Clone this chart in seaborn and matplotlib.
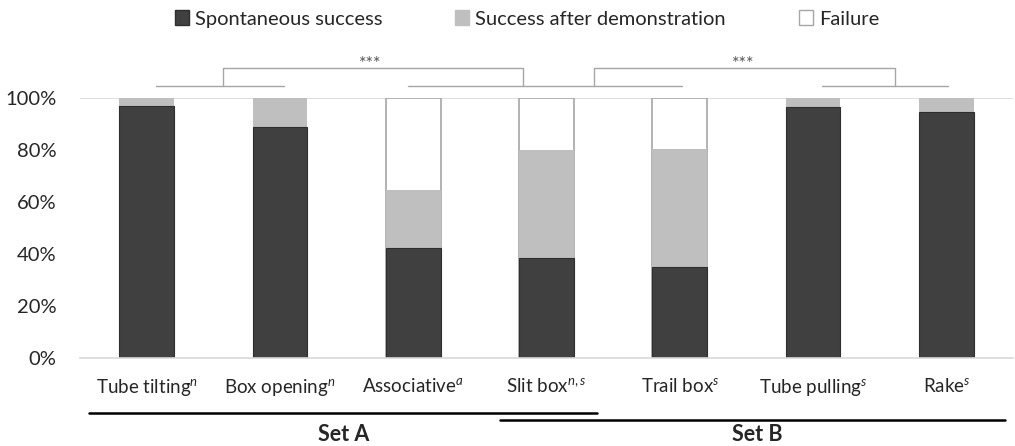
import matplotlib
matplotlib.use("Agg")
import matplotlib.pyplot as plt
import seaborn as sns
import pandas as pd
from matplotlib.patches import Patch
from matplotlib.ticker import PercentFormatter

categories = ["Tube tilting", "Box opening", "Associative", "Slit box",
              "Trail box", "Tube pulling", "Rake"]
superscripts = ["n", "n", "a", "n,s", "s", "s", "s"]
spontaneous = [97, 89, 42.5, 38.5, 35, 96.5, 94.5]
after_demo = [3, 11, 22, 41.5, 45.5, 3.5, 5.5]
failure = [0, 0, 35.5, 20, 19.5, 0, 0]

sns.set_theme(style="white")
plt.rcParams['font.family'] = ['Lato', 'DejaVu Sans']
plt.rcParams['mathtext.fontset'] = 'custom'
plt.rcParams['mathtext.it'] = 'Lato:italic'
plt.rcParams['mathtext.rm'] = 'Lato'

df = pd.DataFrame({"cat": categories, "sp": spontaneous, "de": after_demo, "fa": failure})
df["lvl2"] = df["sp"] + df["de"]
df["lvl3"] = df["lvl2"] + df["fa"]

fig = plt.figure(figsize=(10.15, 4.46), dpi=100)
ax = fig.add_axes([80/1015, 1-358/446, 933/1015, 260/446])

dark, light, fedge = "#404040", "#bfbfbf", "#a6a6a6"
sns.barplot(data=df, x="cat", y="lvl3", color="white", edgecolor=fedge, linewidth=1.2,
            width=0.41, ax=ax, saturation=1)
n = len(categories)
for p, f in zip(ax.patches[:n], failure):
    if f == 0:
        p.set_linewidth(0)
sns.barplot(data=df, x="cat", y="lvl2", color=light, linewidth=0, width=0.41, ax=ax, saturation=1)
sns.barplot(data=df, x="cat", y="sp", color=dark, edgecolor="#2e2e2e", linewidth=0.8,
            width=0.41, ax=ax, saturation=1)

ax.set_ylim(0, 100)
ax.set_xlim(-0.5, 6.5)
ax.set_yticks([0, 20, 40, 60, 80, 100])
ax.yaxis.set_major_formatter(PercentFormatter(decimals=0))
ax.set_xlabel("")
ax.set_ylabel("")
ax.set_xticks(range(n))
ax.set_xticklabels([f"{c}$^{{{s}}}$" for c, s in zip(categories, superscripts)], fontsize=13.5)
ax.tick_params(axis="x", pad=14, length=0)
ax.tick_params(axis="y", labelsize=14.5, pad=17, length=0)
for s in ["left", "right", "top"]:
    ax.spines[s].set_visible(False)
ax.spines["bottom"].set_color("#d9d9d9")
ax.spines["bottom"].set_linewidth(1.2)
ax.axhline(100, color="#d9d9d9", lw=1.2, zorder=0)

tr = ax.get_xaxis_transform()
gc = "#a6a6a6"
def line(xs, ys, **kw):
    ax.plot(xs, ys, transform=tr, clip_on=False, **kw)

y_low, y_high = 1.046, 1.115
# bracket 1
line([0.067, 1.027], [y_low, y_low], color=gc, lw=1)
line([1.964, 4.018], [y_low, y_low], color=gc, lw=1)
line([0.57, 0.57, 2.826, 2.826], [y_low, y_high, y_high, y_low], color=gc, lw=1)
ax.text(1.68, 1.13, "***", transform=tr, ha="center", va="center", fontsize=13, color="#555555")
# bracket 2
line([5.067, 6.012], [y_low, y_low], color=gc, lw=1)
line([3.358, 3.358, 5.615, 5.615], [y_low, y_high, y_high, y_low], color=gc, lw=1)
ax.text(4.475, 1.13, "***", transform=tr, ha="center", va="center", fontsize=13, color="#555555")

# set lines
line([-0.435, 3.381], [-0.2115, -0.2115], color="black", lw=1.8)
line([2.654, 6.44], [-0.238, -0.238], color="black", lw=1.8)
ax.text(1.477, -0.296, "Set A", transform=tr, ha="center", va="center", fontsize=15.5, fontweight="bold")
ax.text(4.58, -0.296, "Set B", transform=tr, ha="center", va="center", fontsize=15.5, fontweight="bold")

handles = [Patch(facecolor=dark, edgecolor="#2e2e2e", label="Spontaneous success"),
           Patch(facecolor=light, edgecolor=light, label="Success after demonstration"),
           Patch(facecolor="white", edgecolor=fedge, label="Failure")]
fig.legend(handles=handles, loc="center", bbox_to_anchor=(527/1015, 1-19/446), ncol=3,
           frameon=False, fontsize=14.5, handlelength=0.7, handleheight=0.7,
           handletextpad=0.3, columnspacing=3.6)

fig.savefig("out.png", dpi=100)
